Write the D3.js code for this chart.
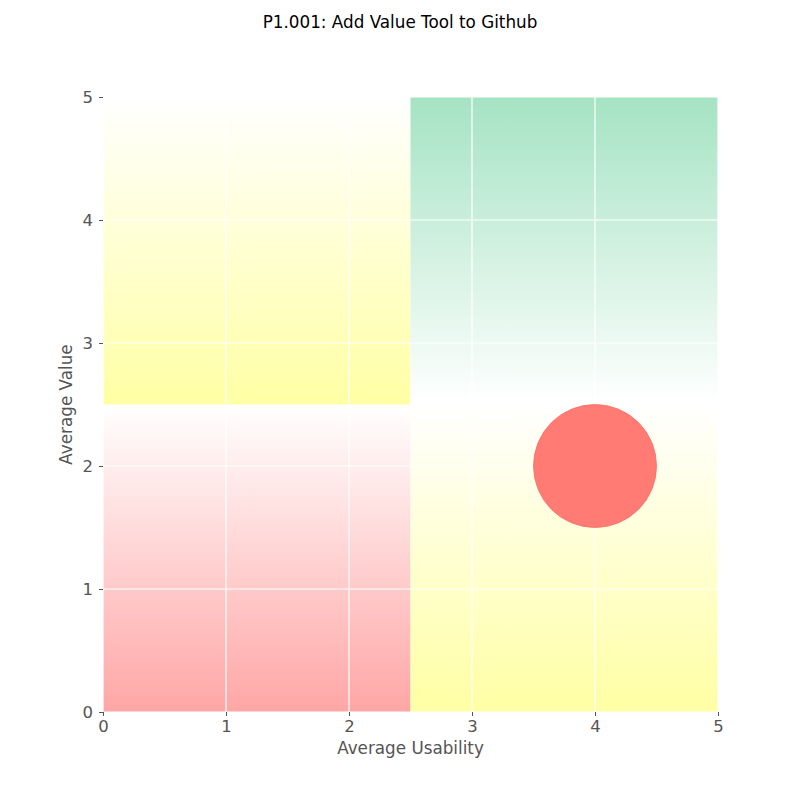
<!DOCTYPE html>
<html>
<head>
<meta charset="utf-8">
<script src="https://cdn.jsdelivr.net/npm/d3@7"></script>
<style>
  body { margin: 0; background: #fff; }
  text { font-family: "DejaVu Sans", sans-serif; }
</style>
</head>
<body>
<div id="chart"></div>
<script>
var width = 800, height = 800;
var plotLeft = 103, plotRight = 718, plotTop = 97, plotBottom = 712;

// quadrants (data units)
var quadX0 = [0, 0, 2.5, 2.5];
var quadX1 = [2.5, 2.5, 5, 5];
var quadY0 = [0, 2.5, 2.5, 0];
var quadY1 = [2.5, 5, 5, 2.5];
var quadColor = ['#ffa6a6', '#ffffa4', '#a5e3c3', '#ffffa4'];
var quadStrongAtTop = [false, false, true, false];

// idea points
var usability = [4];
var value = [2];
var spread = [0.5];

var ticks = [0, 1, 2, 3, 4, 5];

var svg = d3.select('#chart')
    .append('svg')
    .attr('width', width)
    .attr('height', height);

var xScale = d3.scaleLinear().domain([0, 5]).range([plotLeft, plotRight]);
var yScale = d3.scaleLinear().domain([0, 5]).range([plotBottom, plotTop]);

var defs = svg.append('defs');
quadColor.forEach(function(c, i) {
    var g = defs.append('linearGradient')
        .attr('id', 'q' + i)
        .attr('x1', 0).attr('x2', 0)
        .attr('y1', quadStrongAtTop[i] ? 0 : 1)
        .attr('y2', quadStrongAtTop[i] ? 1 : 0);
    g.append('stop').attr('offset', '0%').attr('stop-color', c);
    g.append('stop').attr('offset', '100%').attr('stop-color', '#fff');
});

svg.selectAll('.quad')
    .data(quadColor)
    .enter()
    .append('rect')
    .attr('class', 'quad')
    .attr('x', function(d, i) { return xScale(quadX0[i]); })
    .attr('y', function(d, i) { return yScale(quadY1[i]); })
    .attr('width', function(d, i) { return xScale(quadX1[i]) - xScale(quadX0[i]); })
    .attr('height', function(d, i) { return yScale(quadY0[i]) - yScale(quadY1[i]); })
    .attr('fill', function(d, i) { return 'url(#q' + i + ')'; });

// grid
svg.selectAll('.vgrid')
    .data(ticks)
    .enter()
    .append('line')
    .attr('x1', function(d) { return xScale(d); })
    .attr('x2', function(d) { return xScale(d); })
    .attr('y1', plotTop).attr('y2', plotBottom)
    .attr('stroke', '#fff').attr('stroke-width', 1.2);
svg.selectAll('.hgrid')
    .data(ticks)
    .enter()
    .append('line')
    .attr('y1', function(d) { return yScale(d); })
    .attr('y2', function(d) { return yScale(d); })
    .attr('x1', plotLeft).attr('x2', plotRight)
    .attr('stroke', '#fff').attr('stroke-width', 1.2);

// bubbles
svg.selectAll('.dot')
    .data(usability)
    .enter()
    .append('circle')
    .attr('class', 'dot')
    .attr('cx', function(d) { return xScale(d); })
    .attr('cy', function(d, i) { return yScale(value[i]); })
    .attr('r', function(d, i) { return xScale(spread[i]) - xScale(0); })
    .attr('fill', '#ff7b74')
    .attr('stroke', '#f87068')
    .attr('stroke-width', 0.8);

// axes
var xAxis = svg.append('g')
    .attr('transform', 'translate(0,' + plotBottom + ')')
    .call(d3.axisBottom(xScale).tickValues(ticks).tickFormat(d3.format('d')).tickSize(4).tickPadding(4));
var yAxis = svg.append('g')
    .attr('transform', 'translate(' + plotLeft + ',0)')
    .call(d3.axisLeft(yScale).tickValues(ticks).tickFormat(d3.format('d')).tickSize(4).tickPadding(6));

[xAxis, yAxis].forEach(function(a) {
    a.select('.domain').remove();
    a.selectAll('line').attr('stroke', '#555');
    a.selectAll('text')
        .attr('fill', '#555')
        .style('font-family', '"DejaVu Sans", sans-serif')
        .style('font-size', '16.5px');
});

svg.append('text')
    .attr('x', (plotLeft + plotRight) / 2)
    .attr('y', 754)
    .attr('text-anchor', 'middle')
    .attr('fill', '#555')
    .style('font-size', '16.8px')
    .text('Average Usability');

svg.append('text')
    .attr('transform', 'translate(72,' + ((plotTop + plotBottom) / 2) + ') rotate(-90)')
    .attr('text-anchor', 'middle')
    .attr('fill', '#555')
    .style('font-size', '16.8px')
    .text('Average Value');

svg.append('text')
    .attr('x', width / 2)
    .attr('y', 28)
    .attr('text-anchor', 'middle')
    .attr('fill', '#000')
    .style('font-size', '16.8px')
    .text('P1.001: Add Value Tool to Github');
</script>
</body>
</html>
